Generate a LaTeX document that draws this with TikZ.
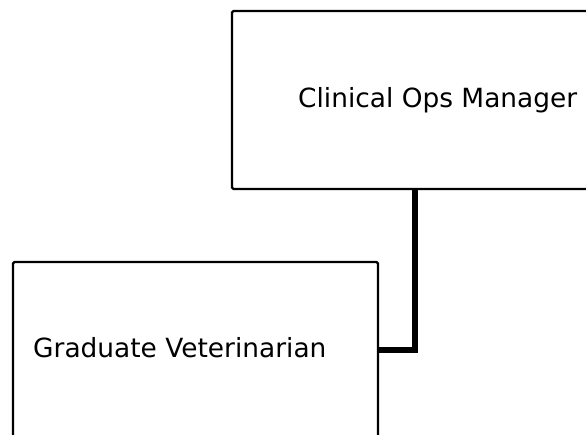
\documentclass[tikz,border=0pt]{standalone}
\usepackage{fontspec}
\setmainfont{DejaVu Sans}
\begin{document}
\begin{tikzpicture}[x=1pt,y=-1pt,
  box/.style={draw=black,line width=2.2pt,rounded corners=1.5pt,fill=white},
  lbl/.style={inner sep=0pt,anchor=base west,font=\fontsize{26.4}{31}\selectfont},
  conn/.style={draw=black,line width=6pt}]
\useasboundingbox (0,0) rectangle (586,435);
\clip (0,0) rectangle (586,435);
\draw[box] (232,11) rectangle (600,189);
\coordinate (topbottom) at (415,190);
\draw[box] (13,262) rectangle (378,450);
\coordinate (botright) at (379,350);
\node[lbl] (t1) at (298,108) {Clinical Ops Manager};
\node[lbl] (t2) at (33,358) {Graduate Veterinarian};
\draw[conn] (topbottom) |- (botright);
\end{tikzpicture}
\end{document}
